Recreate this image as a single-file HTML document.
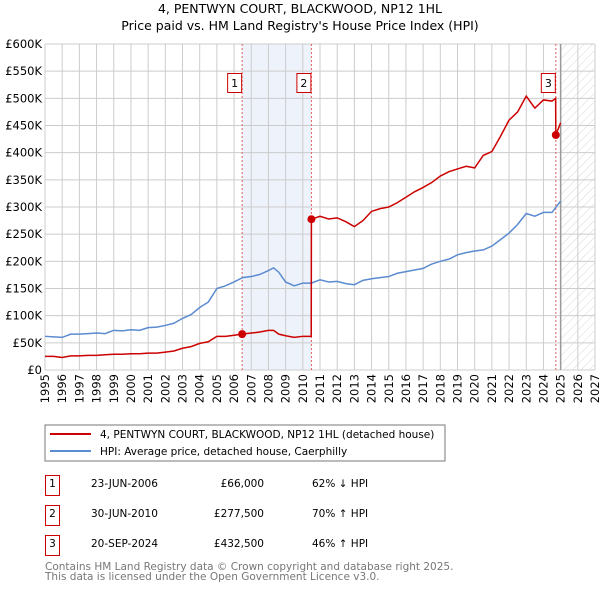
<!DOCTYPE html>
<html><head><meta charset="utf-8"><style>
body{margin:0;background:#fff;width:600px;height:590px;overflow:hidden;font-family:"DejaVu Sans","Liberation Sans",sans-serif;}
svg text{font-family:"DejaVu Sans","Liberation Sans",sans-serif;}
</style></head><body>
<svg id="chart" width="600" height="590">
<defs><pattern id="hatch" width="6" height="6" patternUnits="userSpaceOnUse" patternTransform="rotate(45)"><line x1="0" y1="0" x2="0" y2="6" stroke="#d8d8d8" stroke-width="1"/></pattern></defs>
<text x="300" y="13" text-anchor="middle" font-size="12.5">4, PENTWYN COURT, BLACKWOOD, NP12 1HL</text>
<text x="300" y="30" text-anchor="middle" font-size="12.5">Price paid vs. HM Land Registry's House Price Index (HPI)</text>
<g id="grid"></g><g id="axes"></g><g id="series"></g>
<rect x="45" y="425" width="400" height="36" fill="#fff" stroke="#777"/>
<line x1="50" y1="434" x2="91" y2="434" stroke="#cc0000" stroke-width="2"/>
<text x="100" y="438" font-size="10.5">4, PENTWYN COURT, BLACKWOOD, NP12 1HL (detached house)</text>
<line x1="50" y1="451" x2="91" y2="451" stroke="#5b8bd0" stroke-width="2"/>
<text x="100" y="455" font-size="10.5">HPI: Average price, detached house, Caerphilly</text>
<g font-size="10.5">
<rect x="45.5" y="475.5" width="14" height="20" fill="none" stroke="#cc0000"/><text x="52.5" y="487" text-anchor="middle">1</text>
<text x="91" y="487">23-JUN-2006</text><text x="264" y="487" text-anchor="end">£66,000</text><text x="312" y="487">62% ↓ HPI</text>
<rect x="45.5" y="505.5" width="14" height="20" fill="none" stroke="#cc0000"/><text x="52.5" y="517" text-anchor="middle">2</text>
<text x="91" y="517">30-JUN-2010</text><text x="264" y="517" text-anchor="end">£277,500</text><text x="312" y="517">70% ↑ HPI</text>
<rect x="45.5" y="535.5" width="14" height="20" fill="none" stroke="#cc0000"/><text x="52.5" y="547" text-anchor="middle">3</text>
<text x="91" y="547">20-SEP-2024</text><text x="264" y="547" text-anchor="end">£432,500</text><text x="312" y="547">46% ↑ HPI</text>
</g>
<text x="45" y="570" font-size="10.5" fill="#777">Contains HM Land Registry data © Crown copyright and database right 2025.</text>
<text x="45" y="580" font-size="10.5" fill="#777">This data is licensed under the Open Government Licence v3.0.</text>
</svg>
<script>
const yTicks=[0,50,100,150,200,250,300,350,400,450,500,550,600];
const yTickLabels=["£0","£50K","£100K","£150K","£200K","£250K","£300K","£350K","£400K","£450K","£500K","£550K","£600K"];
const xTicks=[1995,1996,1997,1998,1999,2000,2001,2002,2003,2004,2005,2006,2007,2008,2009,2010,2011,2012,2013,2014,2015,2016,2017,2018,2019,2020,2021,2022,2023,2024,2025,2026,2027];
const hpiYears=[1995,1995.5,1996,1996.5,1997,1997.5,1998,1998.5,1999,1999.5,2000,2000.5,2001,2001.5,2002,2002.5,2003,2003.5,2004,2004.5,2005,2005.5,2006,2006.5,2007,2007.5,2008,2008.3,2008.6,2009,2009.5,2010,2010.5,2011,2011.5,2012,2012.5,2013,2013.5,2014,2014.5,2015,2015.5,2016,2016.5,2017,2017.5,2018,2018.5,2019,2019.5,2020,2020.5,2021,2021.5,2022,2022.5,2023,2023.5,2024,2024.5,2025];
const hpiValues=[62,61,60,66,66,67,68,67,73,72,74,73,78,79,82,86,95,102,115,125,150,155,162,170,172,176,183,188,180,162,155,160,160,166,162,163,159,157,165,168,170,172,178,181,184,187,195,200,204,212,216,219,221,228,240,252,268,288,283,290,290,311];
const saleYears=[2006.47,2010.5,2024.72];
const salePrices=[66,277.5,432.5];
const propYears=[1995,1995.5,1996,1996.5,1997,1997.5,1998,1998.5,1999,1999.5,2000,2000.5,2001,2001.5,2002,2002.5,2003,2003.5,2004,2004.5,2005,2005.5,2006,2006.47,2007,2007.5,2008,2008.3,2008.6,2009,2009.5,2010,2010.49,2010.5,2011,2011.5,2012,2012.5,2013,2013.5,2014,2014.5,2015,2015.5,2016,2016.5,2017,2017.5,2018,2018.5,2019,2019.5,2020,2020.5,2021,2021.5,2022,2022.5,2023,2023.5,2024,2024.5,2024.71,2024.72,2025];
const propValues=[25,25,23,26,26,27,27,28,29,29,30,30,31,31,33,35,40,43,49,52,62,62,64,66,68,70,73,73,66,63,60,62,62,277.5,283,278,280,273,264,275,292,297,300,308,318,328,336,345,357,365,370,375,372,395,402,430,460,475,504,482,497,495,500,432.5,455];
const X=y=>45+(y-1995)*550/32, Y=v=>370-v*326/600;
const ns="http://www.w3.org/2000/svg";
function mk(tag,attrs,parent){const e=document.createElementNS(ns,tag);for(const k in attrs)e.setAttribute(k,attrs[k]);parent.appendChild(e);return e;}
const grid=document.getElementById('grid'),axes=document.getElementById('axes'),ser=document.getElementById('series');
const shade=mk('rect',{x:X(saleYears[0]),y:44,width:X(saleYears[1])-X(saleYears[0]),height:326,fill:'#eef2fb'},grid);


const hat=mk('rect',{x:X(2025),y:44,width:595-X(2025),height:326,fill:'url(#hatch)'},grid);


yTicks.forEach((t,i)=>{mk('line',{x1:45,x2:595,y1:Y(t),y2:Y(t),stroke:'#ccc'},grid);
 const tx=mk('text',{x:42,y:Y(t)+4,'text-anchor':'end','font-size':'11.5'},axes);tx.textContent=yTickLabels[i];
 
 });
xTicks.forEach(t=>{mk('line',{x1:X(t),x2:X(t),y1:44,y2:370,stroke:'#ccc'},grid);
 const tx=mk('text',{x:0,y:0,'text-anchor':'end','font-size':'11.5',transform:`translate(${X(t)+4},374) rotate(-90)`},axes);tx.textContent=t;
 
 });
mk('line',{x1:X(2025),x2:X(2025),y1:44,y2:370,stroke:'#999','stroke-width':1.5},grid);
saleYears.forEach((s,i)=>{mk('line',{x1:X(s),x2:X(s),y1:44,y2:370,stroke:'#e06060','stroke-dasharray':'2,2'},grid);
 const g=mk('g',{},axes);
 
 
 mk('rect',{x:X(s)-14.5,y:73.5,width:14,height:19,fill:'#fff',stroke:'#cc0000'},g);
 const tx=mk('text',{x:X(s)-7.5,y:87,'text-anchor':'middle','font-size':'11'},g);tx.textContent=i+1;});
const hp=mk('polyline',{points:hpiYears.map((y,i)=>X(y)+','+Y(hpiValues[i])).join(' '),fill:'none',stroke:'#5b8bd0','stroke-width':1.5},ser);


const pp=mk('polyline',{points:propYears.map((y,i)=>X(y)+','+Y(propValues[i])).join(' '),fill:'none',stroke:'#cc0000','stroke-width':1.5},ser);


saleYears.forEach((s,i)=>{const c=mk('circle',{cx:X(s),cy:Y(salePrices[i]),r:4,fill:'#cc0000'},ser);
 
 });
</script>
</body></html>
